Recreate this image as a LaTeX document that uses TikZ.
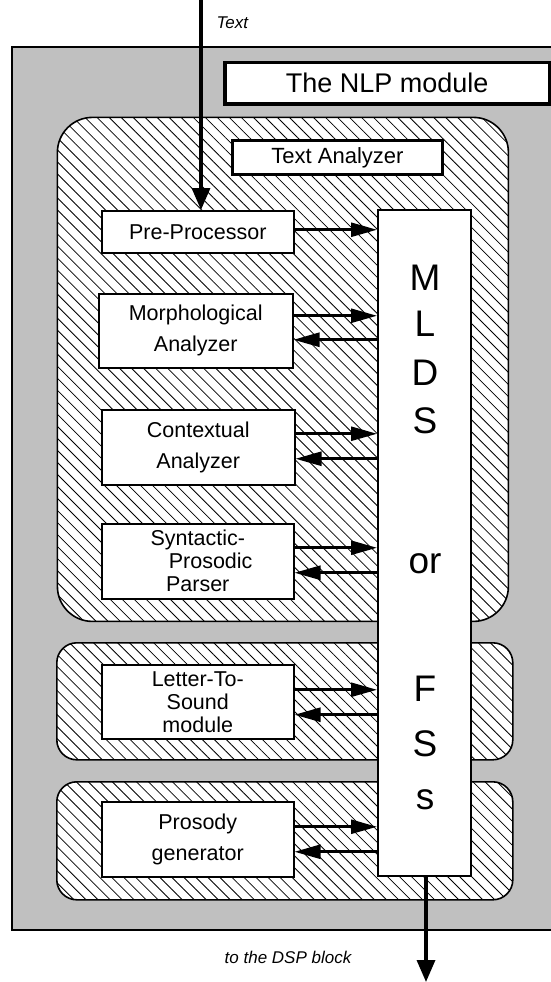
\documentclass[tikz,border=0pt]{standalone}
\usepackage{fontspec}
\setmainfont{Liberation Sans}
\usetikzlibrary{patterns.meta,arrows.meta,calc}
\definecolor{bggray}{HTML}{C0C0C0}
\begin{document}
\begin{tikzpicture}[x=1pt,y=-1pt,
  hatchbox/.style={draw, line width=1.6pt, rounded corners=#1, anchor=north west, inner sep=0pt,
    preaction={fill=white}, pattern={Lines[angle=-45,distance=8.5pt,line width=0.8pt]}},
  modbox/.style={draw, fill=white, line width=1.5pt, anchor=north west, inner sep=0pt, align=center,
    font=\fontsize{21.5}{31}\selectfont},
  titlebox/.style={draw, fill=white, anchor=north west, inner sep=0pt},
  letter/.style={anchor=base, font=\fontsize{37}{40}\selectfont},
  arr/.style={line width=2.6pt, -{Triangle[length=26pt,width=14pt]}},
  bigarr/.style={line width=3.4pt, -{Triangle[length=22pt,width=18pt]}},
  note/.style={font=\itshape\fontsize{17}{20}\selectfont}
]
\useasboundingbox (0,0) rectangle (551,982);
% NLP module background
\fill[bggray] (12,47) rectangle (551,930);
\draw[line width=1.6pt] (551,47) -- (12,47) -- (12,930) -- (551,930);
\node[titlebox, line width=3.5pt, minimum width=325pt, minimum height=41pt,
  font=\fontsize{27}{30}\selectfont] (nlp) at (223,61) {The NLP module};

% containers
\node[hatchbox=35pt, minimum width=451pt, minimum height=504pt] (ta) at (57,117) {};
\node[hatchbox=20pt, minimum width=456pt, minimum height=117pt] (ltsc) at (56,642) {};
\node[hatchbox=20pt, minimum width=456pt, minimum height=118pt] (prosc) at (56,781) {};

\node[titlebox, line width=3pt, minimum width=210pt, minimum height=34pt,
  font=\fontsize{22}{24}\selectfont] (tat) at (231,139) {Text Analyzer};

% modules
\node[modbox, minimum width=192pt, minimum height=42pt] (pre) at (101,210) {Pre-Processor};
\node[modbox, minimum width=194pt, minimum height=74pt] (morph) at (98,293) {Morphological\\Analyzer};
\node[modbox, minimum width=193pt, minimum height=75pt] (ctx) at (101,409) {Contextual\\Analyzer};
\node[modbox, minimum width=192pt, minimum height=75pt, font=\fontsize{21.5}{23}\selectfont] (syn) at (101,523) {Syntactic-\\\hspace*{1.2em}Prosodic\\Parser};
\node[modbox, minimum width=192pt, minimum height=74pt, font=\fontsize{21.5}{23}\selectfont] (lts) at (101,664) {Letter-To-\\Sound\\module};
\node[modbox, minimum width=192pt, minimum height=75pt] (pros) at (101,801) {Prosody\\generator};

% MLDS column
\node[draw, fill=white, line width=1.6pt, anchor=north west, inner sep=0pt,
  minimum width=93pt, minimum height=666pt] (mlds) at (377,209) {};
\node[letter] (l1) at (425,290) {M};
\node[letter] (l2) at (425,336) {L};
\node[letter] (l3) at (425,385) {D};
\node[letter] (l4) at (425,433) {S};
\node[letter] (l5) at (425,573) {or};
\node[letter] (l6) at (425,701) {F};
\node[letter] (l7) at (425,756) {S};
\node[letter] (l8) at (425,809) {s};

% input / output
\coordinate (in) at (201,0);
\draw[bigarr] (in) -- (in |- pre.north);
\node[note, anchor=west] (intext) at (213,23) {Text};
\coordinate (out) at (426,982);
\draw[bigarr] (mlds.south -| out) -- (out);
\node[note] (outtext) at (288,957) {to the DSP block};

% connectors
\draw[arr] ($(pre.east)+(0,-2)$) -- ($(pre.east -| mlds.west)+(0,-2)$);
\foreach \b/\r/\l in {morph/15/-9, ctx/13.5/-11.5, syn/13.5/-11.5, lts/12/-13, pros/12.5/-12.5}{
  \draw[arr] ($(\b.east)+(0,-\r)$) -- ($(\b.east -| mlds.west)+(0,-\r)$);
  \draw[arr] ($(\b.east -| mlds.west)+(0,-\l)$) -- ($(\b.east)+(0,-\l)$);
}
\end{tikzpicture}
\end{document}
